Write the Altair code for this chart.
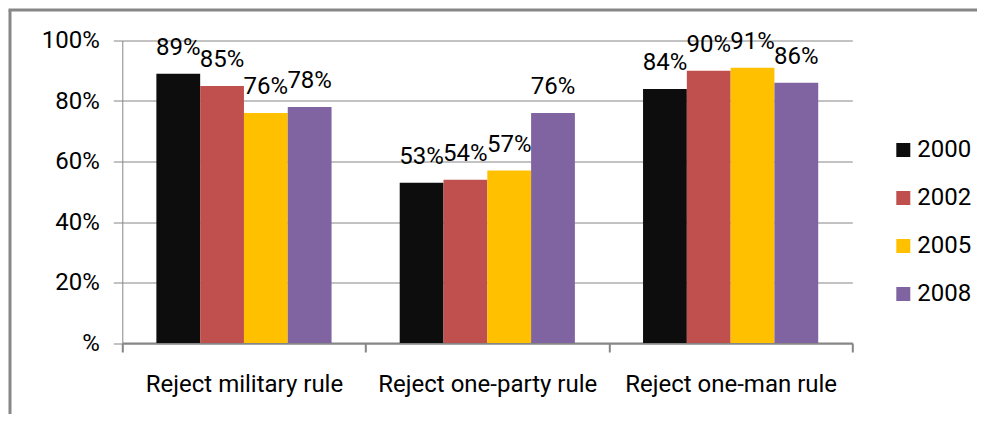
import altair as alt
import pandas as pd

categories = ["Reject military rule", "Reject one-party rule", "Reject one-man rule"]
years = ["2000", "2002", "2005", "2008"]
values_2000 = [89, 53, 84]
values_2002 = [85, 54, 90]
values_2005 = [76, 57, 91]
values_2008 = [78, 76, 86]
colors = ["#0d0d0d", "#c0504d", "#ffc000", "#8064a2"]
y_ticks = [0, 20, 40, 60, 80, 100]

series = {"2000": values_2000, "2002": values_2002, "2005": values_2005, "2008": values_2008}
rows = []
for yr in years:
    for cat, v in zip(categories, series[yr]):
        rows.append({"category": cat, "year": yr, "value": v})
df = pd.DataFrame(rows)

FONT = "Roboto"
GRAY = "#868686"

x_enc = alt.X(
    "category:N",
    sort=categories,
    scale=alt.Scale(paddingInner=0, paddingOuter=0),
    axis=alt.Axis(
        title=None, labelAngle=0, tickBand="extent", tickSize=9,
        labelPadding=20, labelLimit=400, grid=False, domainWidth=2, tickWidth=2,
    ),
)
xoff_enc = alt.XOffset("year:N", sort=years, scale=alt.Scale(paddingInner=0, paddingOuter=0.778))
y_enc = alt.Y(
    "value:Q",
    scale=alt.Scale(domain=[0, 100], nice=False),
    axis=alt.Axis(
        title=None, values=y_ticks,
        labelExpr="datum.value == 0 ? '%' : datum.value + '%'",
        tickSize=9, labelPadding=14, grid=True, gridColor=GRAY, domainWidth=1,
    ),
)

base = alt.Chart(df)

bars = base.mark_bar().encode(
    x=x_enc,
    xOffset=xoff_enc,
    y=y_enc,
    color=alt.Color(
        "year:N",
        sort=years,
        scale=alt.Scale(domain=years, range=colors),
        legend=alt.Legend(
            title=None, orient="none", legendX=769, legendY=97.5,
            symbolType="square", symbolSize=196, symbolStrokeWidth=0,
            labelFontSize=24, labelFont=FONT, labelColor="black",
            rowPadding=24, labelOffset=2,
        ),
    ),
)

labels = base.transform_calculate(label="datum.value + '%'").mark_text(
    baseline="alphabetic", dy=-19, fontSize=24, font=FONT, color="black"
).encode(
    x=alt.X("category:N", sort=categories),
    xOffset=alt.XOffset("year:N", sort=years),
    y=alt.Y("value:Q"),
    text="label:N",
)

frame_data = alt.Data(values=[{"k": 1}])
left_border = alt.Chart(frame_data).mark_rule(color="#878787", strokeWidth=3).encode(
    x=alt.value(-112.3), y=alt.value(-30.5), y2=alt.value(420)
)
top_border = alt.Chart(frame_data).mark_rule(color="#878787", strokeWidth=3).encode(
    x=alt.value(-113.8), x2=alt.value(880), y=alt.value(-30.5), y2=alt.value(-30.5)
)

chart = alt.layer(bars, labels, left_border, top_border).properties(
    width=730,
    height=302.5,
    autosize=alt.AutoSizeParams(type="none"),
    padding={"left": 114.3, "top": 32.5, "right": 124.7, "bottom": 71},
).configure_axis(
    labelFont=FONT, labelFontSize=24, labelColor="black",
    domainColor=GRAY, tickColor=GRAY,
).configure_view(strokeWidth=0)

chart.save("out.html", embed_options={"renderer": "svg", "actions": False})
